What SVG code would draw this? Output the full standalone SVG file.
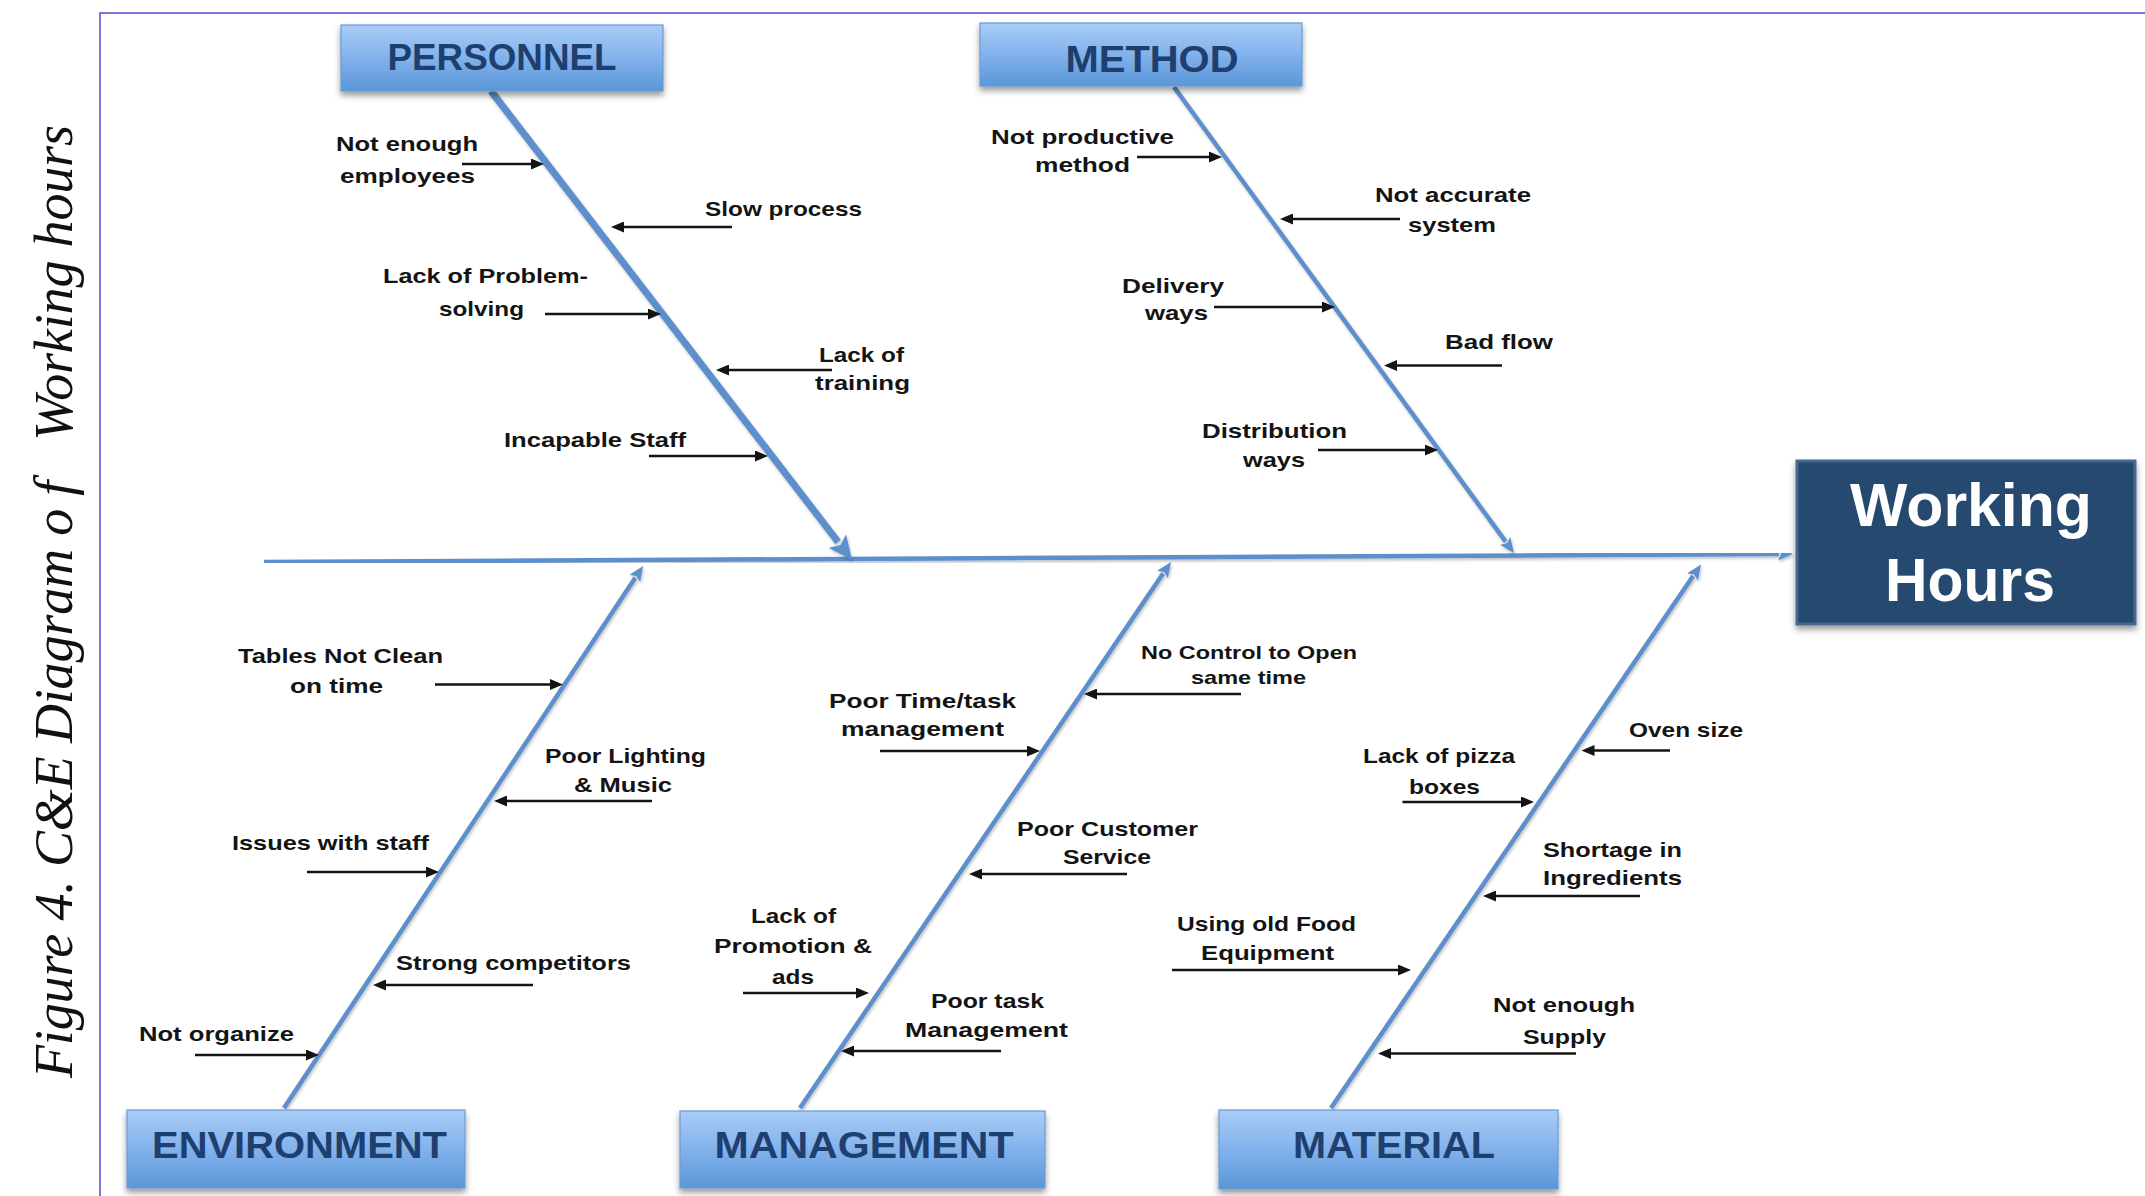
<svg xmlns="http://www.w3.org/2000/svg" width="2145" height="1196" viewBox="0 0 2145 1196">
  <defs>
    <style>
      .frame { stroke: #7878d8; stroke-width: 2; fill: none; }
      .cap { font-family: "Liberation Serif", "Times New Roman", serif; font-style: italic; font-size: 54px; fill: #111; }
      .cat-box { fill: url(#catFill); stroke: #6a9cd6; stroke-width: 1.2; filter: url(#boxShadow); }
      .cat { font-family: "Liberation Sans", Arial, sans-serif; font-weight: bold; font-size: 36px; fill: #1f3f6f; text-anchor: middle; }
      .eff-box { fill: #254870; stroke: #46698f; stroke-width: 3; filter: url(#boxShadow); }
      .eff { font-family: "Liberation Sans", Arial, sans-serif; font-weight: bold; font-size: 62px; fill: #ffffff; text-anchor: middle; }
      .lbl { font-family: "Liberation Sans", Arial, sans-serif; font-weight: bold; font-size: 21px; fill: #141414; text-anchor: middle; }
      .sm { font-size: 19px; }
      .bone { stroke: #5b8fcb; fill: none; stroke-linecap: butt; filter: url(#lineShadow); }
      .cause { stroke: #141414; stroke-width: 2.4; fill: none; marker-end: url(#causeHead); }
    </style>
    <linearGradient id="catFill" x1="0" y1="0" x2="0" y2="1">
      <stop offset="0" stop-color="#a9cdf7"/>
      <stop offset="0.5" stop-color="#82b2ec"/>
      <stop offset="1" stop-color="#5a96d8"/>
    </linearGradient>
    <filter id="boxShadow" x="-10%" y="-20%" width="120%" height="150%">
      <feDropShadow dx="0" dy="4" stdDeviation="3" flood-color="#000" flood-opacity="0.4"/>
    </filter>
    <filter id="lineShadow" x="-10%" y="-10%" width="120%" height="120%">
      <feDropShadow dx="1" dy="2" stdDeviation="1.5" flood-color="#000" flood-opacity="0.25"/>
    </filter>
    <marker id="causeHead" markerUnits="userSpaceOnUse" markerWidth="13" markerHeight="11" refX="1" refY="5.5" orient="auto">
      <path d="M0,0 L13,5.5 L0,11 z" fill="#141414"/>
    </marker>
    <marker id="boneHeadBig" markerUnits="userSpaceOnUse" markerWidth="24" markerHeight="22" refX="1" refY="11" orient="auto">
      <path d="M0,0 L24,11 L0,22 L5,11 z" fill="#5b8fcb"/>
    </marker>
    <marker id="boneHead" markerUnits="userSpaceOnUse" markerWidth="15" markerHeight="13" refX="1" refY="6.5" orient="auto">
      <path d="M0,0 L15,6.5 L0,13 L3,6.5 z" fill="#5b8fcb"/>
    </marker>
  </defs>

  <rect width="2145" height="1196" fill="#ffffff"/>

  <!-- page frame -->
  <path class="frame" d="M100,1196 V13 H2145"/>

  <!-- figure caption -->
  <text class="cap" transform="translate(72,1078) rotate(-90)" x="0" y="0" textLength="953" lengthAdjust="spacing" xml:space="preserve">Figure 4. C&amp;E Diagram o f   Working hours</text>

  <!-- spine and category bones -->
  <g id="connectors">
    <line class="bone" x1="264" y1="562" x2="1779" y2="554.1" stroke-width="4.5" marker-end="url(#boneHead)"/>
    <line class="bone" x1="491" y1="91" x2="838" y2="541.8" stroke-width="7" marker-end="url(#boneHeadBig)"/>
    <line class="bone" x1="1174" y1="87" x2="1505.7" y2="541.7" stroke-width="4.5" marker-end="url(#boneHead)"/>
    <line class="bone" x1="284" y1="1108" x2="635.3" y2="577.7" stroke-width="4.5" marker-end="url(#boneHead)"/>
    <line class="bone" x1="800" y1="1108" x2="1163.1" y2="573.6" stroke-width="4.5" marker-end="url(#boneHead)"/>
    <line class="bone" x1="1331" y1="1108" x2="1693.1" y2="576.1" stroke-width="4.5" marker-end="url(#boneHead)"/>

    <!-- personnel causes -->
    <line class="cause" x1="462" y1="164" x2="532" y2="164"/>
    <line class="cause" x1="732" y1="227" x2="623" y2="227"/>
    <line class="cause" x1="545" y1="314" x2="649" y2="314"/>
    <line class="cause" x1="832" y1="370" x2="728" y2="370"/>
    <line class="cause" x1="649" y1="456" x2="756" y2="456"/>
    <!-- method causes -->
    <line class="cause" x1="1137" y1="157" x2="1210" y2="157"/>
    <line class="cause" x1="1400" y1="219" x2="1292" y2="219"/>
    <line class="cause" x1="1214" y1="307" x2="1323" y2="307"/>
    <line class="cause" x1="1502" y1="365.5" x2="1396" y2="365.5"/>
    <line class="cause" x1="1318" y1="450" x2="1426" y2="450"/>
    <!-- environment causes -->
    <line class="cause" x1="435" y1="684.5" x2="551" y2="684.5"/>
    <line class="cause" x1="652" y1="801" x2="506" y2="801"/>
    <line class="cause" x1="307" y1="872" x2="427" y2="872"/>
    <line class="cause" x1="533" y1="985" x2="385" y2="985"/>
    <line class="cause" x1="195" y1="1055" x2="307" y2="1055"/>
    <!-- management causes -->
    <line class="cause" x1="1241" y1="694" x2="1096" y2="694"/>
    <line class="cause" x1="880" y1="751" x2="1028" y2="751"/>
    <line class="cause" x1="1127" y1="874" x2="981" y2="874"/>
    <line class="cause" x1="743" y1="993" x2="857" y2="993"/>
    <line class="cause" x1="1001" y1="1051" x2="853" y2="1051"/>
    <!-- material causes -->
    <line class="cause" x1="1670" y1="750.5" x2="1593.5" y2="750.5"/>
    <line class="cause" x1="1402.5" y1="802" x2="1522" y2="802"/>
    <line class="cause" x1="1640" y1="896" x2="1495" y2="896"/>
    <line class="cause" x1="1172" y1="970" x2="1399" y2="970"/>
    <line class="cause" x1="1576" y1="1053.5" x2="1390" y2="1053.5"/>
  </g>

  <!-- category boxes -->
  <g id="personnel">
    <rect class="cat-box" x="341" y="25" width="322" height="66"/>
    <text class="cat" x="502" y="70" textLength="229" lengthAdjust="spacingAndGlyphs">PERSONNEL</text>
  </g>
  <g id="method">
    <rect class="cat-box" x="980" y="23" width="322" height="63"/>
    <text class="cat" x="1152" y="72" textLength="173" lengthAdjust="spacingAndGlyphs">METHOD</text>
  </g>
  <g id="environment">
    <rect class="cat-box" x="127" y="1110" width="338" height="78"/>
    <text class="cat" x="299.5" y="1158" textLength="295" lengthAdjust="spacingAndGlyphs">ENVIRONMENT</text>
  </g>
  <g id="management">
    <rect class="cat-box" x="680" y="1111" width="365" height="77"/>
    <text class="cat" x="864" y="1158" textLength="299" lengthAdjust="spacingAndGlyphs">MANAGEMENT</text>
  </g>
  <g id="material">
    <rect class="cat-box" x="1219" y="1110" width="339" height="79"/>
    <text class="cat" x="1394" y="1158" textLength="202" lengthAdjust="spacingAndGlyphs">MATERIAL</text>
  </g>

  <!-- effect box -->
  <g id="working-hours">
    <rect class="eff-box" x="1797" y="461" width="338" height="163"/>
    <text class="eff" x="1971" y="526" textLength="242" lengthAdjust="spacingAndGlyphs">Working</text>
    <text class="eff" x="1970" y="601" textLength="170" lengthAdjust="spacingAndGlyphs">Hours</text>
  </g>

  <!-- personnel cause labels -->
  <g id="personnel-causes">
    <text class="lbl" x="407" y="151" textLength="142" lengthAdjust="spacingAndGlyphs">Not enough</text>
    <text class="lbl" x="407.5" y="183" textLength="135" lengthAdjust="spacingAndGlyphs">employees</text>
    <text class="lbl" x="783.5" y="216" textLength="157" lengthAdjust="spacingAndGlyphs">Slow process</text>
    <text class="lbl" x="485.5" y="283" textLength="205" lengthAdjust="spacingAndGlyphs">Lack of Problem-</text>
    <text class="lbl" x="481.5" y="316" textLength="85" lengthAdjust="spacingAndGlyphs">solving</text>
    <text class="lbl" x="861.5" y="362" textLength="85" lengthAdjust="spacingAndGlyphs">Lack of</text>
    <text class="lbl" x="862.5" y="390" textLength="95" lengthAdjust="spacingAndGlyphs">training</text>
    <text class="lbl" x="595" y="447" textLength="182" lengthAdjust="spacingAndGlyphs">Incapable Staff</text>
  </g>

  <!-- method cause labels -->
  <g id="method-causes">
    <text class="lbl" x="1082.5" y="143.5" textLength="183" lengthAdjust="spacingAndGlyphs">Not productive</text>
    <text class="lbl" x="1082.5" y="172" textLength="95" lengthAdjust="spacingAndGlyphs">method</text>
    <text class="lbl" x="1453" y="202" textLength="156" lengthAdjust="spacingAndGlyphs">Not accurate</text>
    <text class="lbl" x="1452" y="232" textLength="88" lengthAdjust="spacingAndGlyphs">system</text>
    <text class="lbl" x="1173" y="293" textLength="102" lengthAdjust="spacingAndGlyphs">Delivery</text>
    <text class="lbl" x="1176.5" y="319.5" textLength="63" lengthAdjust="spacingAndGlyphs">ways</text>
    <text class="lbl" x="1499" y="349" textLength="108" lengthAdjust="spacingAndGlyphs">Bad flow</text>
    <text class="lbl" x="1274.5" y="438" textLength="145" lengthAdjust="spacingAndGlyphs">Distribution</text>
    <text class="lbl" x="1274" y="467" textLength="62" lengthAdjust="spacingAndGlyphs">ways</text>
  </g>

  <!-- environment cause labels -->
  <g id="environment-causes">
    <text class="lbl" x="340.5" y="663" textLength="205" lengthAdjust="spacingAndGlyphs">Tables Not Clean</text>
    <text class="lbl" x="336.5" y="693" textLength="93" lengthAdjust="spacingAndGlyphs">on time</text>
    <text class="lbl" x="625.5" y="763" textLength="161" lengthAdjust="spacingAndGlyphs">Poor Lighting</text>
    <text class="lbl" x="623" y="792" textLength="98" lengthAdjust="spacingAndGlyphs">&amp; Music</text>
    <text class="lbl" x="330.5" y="850" textLength="197" lengthAdjust="spacingAndGlyphs">Issues with staff</text>
    <text class="lbl" x="513.5" y="970" textLength="235" lengthAdjust="spacingAndGlyphs">Strong competitors</text>
    <text class="lbl" x="216.5" y="1041" textLength="155" lengthAdjust="spacingAndGlyphs">Not organize</text>
  </g>

  <!-- management cause labels -->
  <g id="management-causes">
    <text class="lbl sm" x="1249" y="659" textLength="216" lengthAdjust="spacingAndGlyphs">No Control to Open</text>
    <text class="lbl sm" x="1248.5" y="684" textLength="115" lengthAdjust="spacingAndGlyphs">same time</text>
    <text class="lbl" x="922.5" y="708" textLength="187" lengthAdjust="spacingAndGlyphs">Poor Time/task</text>
    <text class="lbl" x="922.5" y="736" textLength="163" lengthAdjust="spacingAndGlyphs">management</text>
    <text class="lbl" x="1107.5" y="836" textLength="181" lengthAdjust="spacingAndGlyphs">Poor Customer</text>
    <text class="lbl" x="1107" y="864" textLength="88" lengthAdjust="spacingAndGlyphs">Service</text>
    <text class="lbl" x="793.5" y="923" textLength="85" lengthAdjust="spacingAndGlyphs">Lack of</text>
    <text class="lbl" x="793" y="953" textLength="158" lengthAdjust="spacingAndGlyphs">Promotion &amp;</text>
    <text class="lbl" x="793" y="984" textLength="42" lengthAdjust="spacingAndGlyphs">ads</text>
    <text class="lbl" x="987.5" y="1008" textLength="113" lengthAdjust="spacingAndGlyphs">Poor task</text>
    <text class="lbl" x="986.5" y="1037" textLength="163" lengthAdjust="spacingAndGlyphs">Management</text>
  </g>

  <!-- material cause labels -->
  <g id="material-causes">
    <text class="lbl" x="1686" y="737" textLength="114" lengthAdjust="spacingAndGlyphs">Oven size</text>
    <text class="lbl" x="1439" y="763" textLength="152" lengthAdjust="spacingAndGlyphs">Lack of pizza</text>
    <text class="lbl" x="1444.5" y="794" textLength="71" lengthAdjust="spacingAndGlyphs">boxes</text>
    <text class="lbl" x="1612.5" y="856.5" textLength="139" lengthAdjust="spacingAndGlyphs">Shortage in</text>
    <text class="lbl" x="1612.5" y="885" textLength="139" lengthAdjust="spacingAndGlyphs">Ingredients</text>
    <text class="lbl" x="1266.5" y="931" textLength="179" lengthAdjust="spacingAndGlyphs">Using old Food</text>
    <text class="lbl" x="1267.5" y="959.5" textLength="133" lengthAdjust="spacingAndGlyphs">Equipment</text>
    <text class="lbl" x="1564" y="1011.5" textLength="142" lengthAdjust="spacingAndGlyphs">Not enough</text>
    <text class="lbl" x="1564.5" y="1043.5" textLength="83" lengthAdjust="spacingAndGlyphs">Supply</text>
  </g>
</svg>
